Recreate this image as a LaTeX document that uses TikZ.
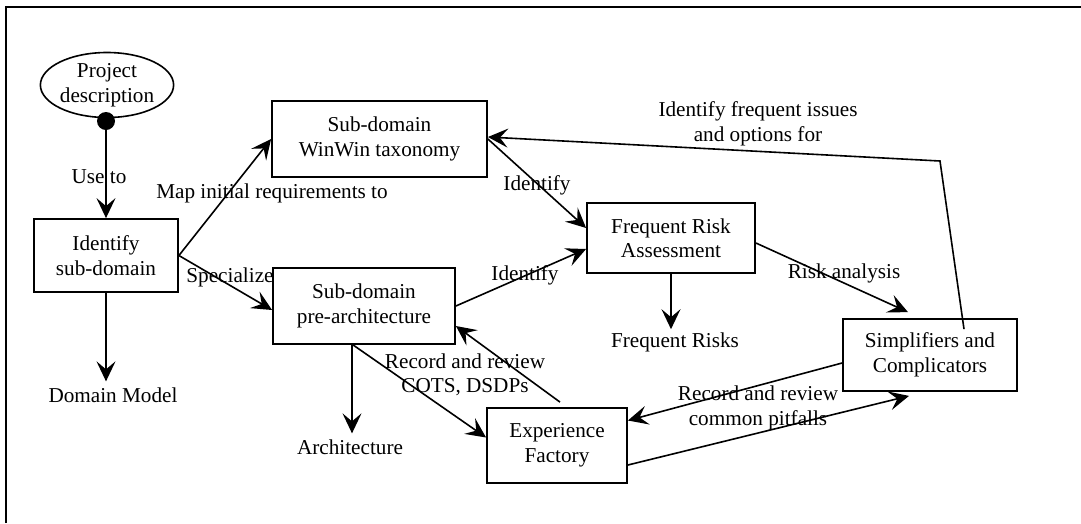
\documentclass[tikz,border=0pt]{standalone}
\usepackage{fontspec}
\setmainfont{Liberation Serif}
\usetikzlibrary{arrows.meta,shapes.geometric}
\begin{document}
\begin{tikzpicture}[x=1pt,y=-1pt,
  font=\fontsize{21.2}{24.5}\selectfont,
  box/.style={draw,line width=1.8pt,align=center,inner sep=0pt},
  lbl/.style={align=center,inner sep=2pt},
  term/.style={inner sep=6pt},
  conn/.style={line width=1.6pt,-{Stealth[length=20pt,width=19pt,inset=8pt]}}]
\useasboundingbox (0,0) rectangle (1081,523);
% frame
\draw[line width=1.8pt] (6,523) -- (6,7) -- (1081,7);

% nodes
\node[draw,ellipse,line width=1.6pt,minimum width=121pt,minimum height=65pt,inner sep=0pt,align=center] (proj) at (107,85) {Project\\description};
\node[circle,fill,minimum size=18pt,inner sep=0pt] (dot) at (106,121) {};
\node[box,minimum width=144pt,minimum height=73pt] (ident) at (106,255.5) {Identify\\sub-domain};
\node[box,minimum width=215pt,minimum height=76pt] (winwin) at (379.5,139) {Sub-domain\\WinWin taxonomy};
\node[box,minimum width=182pt,minimum height=76pt] (pre) at (364,306) {Sub-domain\\pre-architecture};
\node[box,minimum width=168pt,minimum height=70pt] (fra) at (671,238) {Frequent Risk\\Assessment};
\node[box,minimum width=174pt,minimum height=72pt] (simp) at (930,355) {Simplifiers and\\Complicators};
\node[box,minimum width=140pt,minimum height=75pt] (ef) at (557,445.5) {Experience\\Factory};
\node[term] (dm) at (113,395) {Domain Model};
\node[term] (arch) at (350,447) {Architecture};
\node[term,inner sep=3pt] (frisks) at (675,342) {Frequent Risks};
\coordinate (bend) at (940,161);

% connectors
\draw[conn] (dot.south) -- (ident.north);
\draw[conn] (ident.east) -- (winwin.west);
\draw[conn] (ident.east) -- ([yshift=-4pt]pre.west);
\draw[conn] (ident.south) -- (ident.south |- dm.north);
\draw[conn] (winwin.east) -- ([yshift=10pt]fra.west);
\draw[conn] (pre.east) -- ([yshift=-11pt]fra.west);
\draw[conn] (fra.south) -- (fra.south |- frisks.north);
\draw[conn] ([yshift=-5pt]fra.east) -- ([xshift=-22pt,yshift=6pt]simp.north);
\draw[conn] ([xshift=34pt,yshift=-11pt]simp.north) -- (bend) -- ([yshift=2pt]winwin.east);
\draw[conn] ([xshift=-11pt]pre.south) -- ([yshift=8pt]ef.west);
\draw[conn] ([xshift=3pt,yshift=5pt]ef.north) -- ([yshift=-20pt]pre.east);
\draw[conn] ([yshift=-8pt]simp.west) -- ([yshift=25pt]ef.east);
\draw[conn] ([yshift=-19.5pt]ef.east) -- ([xshift=-21pt,yshift=-4pt]simp.south);
\draw[conn] ([xshift=-12pt]pre.south) -- ([xshift=-12pt]pre.south |- arch.north);

% labels
\node[lbl] at (99,177) {Use to};
\node[lbl] at (272,193) {Map initial requirements to};
\node[lbl] at (230,277) {Specialize};
\node[lbl] at (537,185) {Identify};
\node[lbl] at (525,275) {Identify};
\node[lbl] at (844,273) {Risk analysis};
\node[lbl] at (758,124) {Identify frequent issues\\and options for};
\node[lbl] at (465,375) {Record and review\\COTS, DSDPs};
\node[lbl] at (758,408) {Record and review\\common pitfalls};
\end{tikzpicture}
\end{document}
